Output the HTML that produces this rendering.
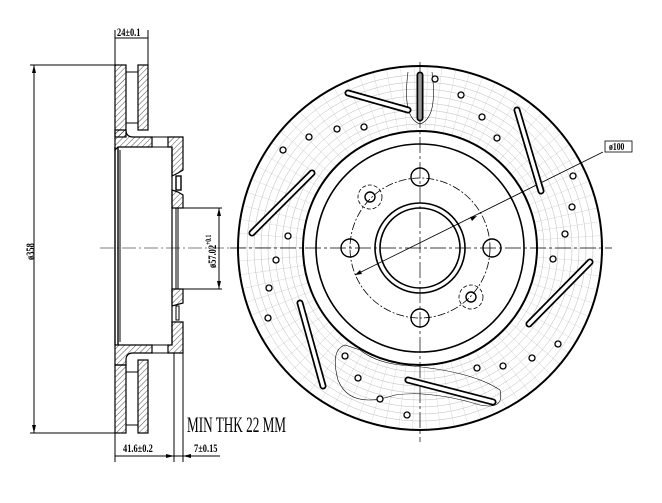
<!DOCTYPE html>
<html><head><meta charset="utf-8"><style>
html,body{margin:0;padding:0;background:#fff}
svg{display:block}
text{font-family:"Liberation Serif",serif;fill:#000}
</style></head><body>
<svg width="662" height="503" viewBox="0 0 662 503" xmlns="http://www.w3.org/2000/svg">
<defs>
<pattern id="h" width="4" height="4" patternUnits="userSpaceOnUse" patternTransform="rotate(45)">
<line x1="0" y1="0" x2="0" y2="4" stroke="#000" stroke-width="0.7"/>
</pattern>
</defs>
<!-- ===== SIDE VIEW ===== -->
<g stroke="#000" stroke-width="1.2" fill="url(#h)">
<rect x="115" y="65" width="11" height="72"/>
<rect x="138" y="65" width="10" height="65"/>
<path d="M115 130 L126 130 Q126 137 133 137 L152 137 L152 147 L118 147 L115 150 Z"/>
<path d="M168 137 L183 137 L183 170 L178 173 L172 176 L172 147 L168 147 Z"/>
<path d="M172 190 L178 192 L183 195 L183 208 L172 208 Z"/>
<path d="M172 289 L183 289 L183 303 L172 306 Z"/>
<path d="M172 322 L183 322 L183 353 L168 353 L168 345 L172 345 Z"/>
<path d="M115 345 L152 345 L152 353 L133 353 Q126 353 126 360 L126 365 L115 365 Z"/>
<rect x="115" y="365" width="11" height="68"/>
<rect x="138" y="360" width="10" height="73"/>
</g>
<g stroke="#000" stroke-width="1" fill="none">
<line x1="115" y1="147" x2="115" y2="345" stroke-width="1.4"/>
<line x1="118" y1="147" x2="118" y2="345" stroke-width="1.4"/>
<line x1="120" y1="150" x2="120" y2="342"/>
<line x1="118" y1="147" x2="172" y2="147"/>
<line x1="118" y1="345" x2="172" y2="345"/>
<line x1="172" y1="147" x2="172" y2="345" stroke-width="1.2"/>
<line x1="152" y1="137" x2="168" y2="137"/>
<line x1="152" y1="353" x2="168" y2="353"/>
<line x1="126" y1="72" x2="138" y2="72"/><line x1="126" y1="123" x2="138" y2="123"/>
<line x1="126" y1="372" x2="138" y2="372"/><line x1="126" y1="425" x2="138" y2="425"/>
<rect x="176" y="176" width="5" height="14" fill="#fff" stroke-width="1.4"/>
<rect x="176" y="306" width="3" height="14" fill="#fff"/>
<line x1="176" y1="208" x2="176" y2="289"/>
<line x1="178" y1="208" x2="178" y2="289"/>
<line x1="174" y1="353" x2="174" y2="462"/>
<line x1="183" y1="353" x2="183" y2="462"/>
<line x1="115" y1="433" x2="115" y2="462"/>
<line x1="115" y1="30" x2="115" y2="65"/>
<line x1="148" y1="30" x2="148" y2="65"/>
<!-- dims -->
<line x1="115" y1="38" x2="148" y2="38"/>
<line x1="30" y1="65" x2="115" y2="65"/>
<line x1="30" y1="433" x2="115" y2="433"/>
<line x1="34" y1="65" x2="34" y2="433"/>
<line x1="115" y1="456" x2="174" y2="456"/>
<line x1="174" y1="456" x2="220" y2="456"/>
<line x1="183" y1="208" x2="222" y2="208"/>
<line x1="183" y1="289" x2="222" y2="289"/>
<line x1="219" y1="208" x2="219" y2="289"/>
<line x1="100" y1="248" x2="232" y2="248" stroke-width="0.6" stroke-dasharray="14 3 2 3"/>
</g>
<g fill="#000">
<path d="M34 65 l-2 8 h4z"/><path d="M34 433 l-2 -8 h4z"/>
<path d="M219 208 l-2 8 h4z"/><path d="M219 289 l-2 -8 h4z"/>
<path d="M174 456 l-8 -2 v4z"/><path d="M183 456 l8 -2 v4z"/>
</g>
<text font-size="12" font-weight="bold" transform="translate(117 36) scale(0.7 1)">24±0.1</text>
<text font-size="12" font-weight="bold" transform="translate(123 452) scale(0.7 1)">41.6±0.2</text>
<text font-size="12" font-weight="bold" transform="translate(194 452) scale(0.7 1)">7±0.15</text>
<text font-size="12" font-weight="bold" transform="translate(34 260) rotate(-90) scale(0.7 1)">ø358</text>
<text font-size="12" font-weight="bold" transform="translate(216 268) rotate(-90) scale(0.7 1)">ø57.02<tspan font-size="8" dy="-5">+0.1</tspan></text>
<text font-size="22" transform="translate(187 432) scale(0.6 1)">MIN THK 22 MM</text>
<!-- ===== FRONT VIEW ===== -->
<g fill="none" stroke="#bbb" stroke-width="0.5">
<circle cx="420" cy="248" r="150" stroke-width="64" stroke="#d8d8d8" stroke-dasharray="0.5 11"/>
<circle cx="420" cy="248" r="124"/><circle cx="420" cy="248" r="131"/>
<circle cx="420" cy="248" r="138"/><circle cx="420" cy="248" r="145"/>
<circle cx="420" cy="248" r="152"/><circle cx="420" cy="248" r="159"/>
<circle cx="420" cy="248" r="166"/><circle cx="420" cy="248" r="173"/>
</g>
<g fill="none" stroke="#000">
<circle cx="420" cy="248" r="182" stroke-width="2"/>
<circle cx="420" cy="248" r="117" stroke-width="2"/>
<circle cx="420" cy="248" r="104" stroke-width="1.6"/>
<circle cx="420" cy="248" r="45" stroke-width="1.6"/>
<circle cx="420" cy="248" r="40" stroke-width="1.6"/>
<circle cx="420" cy="248" r="70" stroke-width="0.8" stroke-dasharray="8 2 2 2"/>
<g stroke-width="1.4">
<circle cx="420" cy="177" r="9"/><circle cx="350" cy="248" r="9"/>
<circle cx="492" cy="248" r="9"/><circle cx="420" cy="318" r="9"/>
<circle cx="370" cy="197" r="5"/><circle cx="471" cy="297" r="5"/>
</g>
<circle cx="370" cy="197" r="12" stroke-width="0.8" stroke-dasharray="4 2"/>
<circle cx="471" cy="297" r="12" stroke-width="0.8" stroke-dasharray="4 2"/>
<line x1="230" y1="248" x2="612" y2="248" stroke-width="0.7" stroke-dasharray="16 3 3 3"/>
<line x1="420" y1="62" x2="420" y2="442" stroke-width="0.7" stroke-dasharray="16 3 3 3"/>
<path d="M408 72 Q402 118 420 124 Q438 118 432 72" stroke-width="0.6"/>
<path d="M345 345 Q330 350 338 380 Q350 410 395 395 Q430 390 480 405 Q505 410 500 390 Q470 370 400 365 Q375 362 360 350 Z" stroke-width="0.6"/>
<line x1="355" y1="275" x2="603" y2="152" stroke-width="0.8"/>
<rect x="605" y="141" width="27" height="11" stroke-width="0.8" fill="#fff"/>
<g stroke-width="1.5">
<line x1="348" y1="93" x2="408" y2="110" stroke-width="7" stroke-linecap="round"/>
<line x1="420" y1="75" x2="420" y2="118" stroke-width="7" stroke-linecap="round"/>
<line x1="517" y1="110" x2="541" y2="191" stroke-width="7" stroke-linecap="round"/>
<line x1="312" y1="173" x2="252" y2="233" stroke-width="7" stroke-linecap="round"/>
<line x1="590" y1="262" x2="529" y2="324" stroke-width="7" stroke-linecap="round"/>
<line x1="300" y1="303" x2="323" y2="386" stroke-width="7" stroke-linecap="round"/>
<line x1="408" y1="380" x2="493" y2="402" stroke-width="7" stroke-linecap="round"/>
</g>
<g stroke="#fff" stroke-width="3.5" stroke-linecap="round">
<line x1="348" y1="93" x2="408" y2="110"/>
<line x1="420" y1="75" x2="420" y2="118" stroke="#999"/>
<line x1="517" y1="110" x2="541" y2="191"/>
<line x1="312" y1="173" x2="252" y2="233"/>
<line x1="590" y1="262" x2="529" y2="324"/>
<line x1="300" y1="303" x2="323" y2="386"/>
<line x1="408" y1="380" x2="493" y2="402"/>
</g>
<g stroke-width="1.3" fill="#fff">
<circle cx="435" cy="79" r="3"/><circle cx="461" cy="95" r="3"/>
<circle cx="482" cy="117" r="3"/><circle cx="497" cy="138" r="3"/>
<circle cx="573" cy="176" r="3"/><circle cx="572" cy="207" r="3"/>
<circle cx="565" cy="234" r="3"/><circle cx="553" cy="259" r="3"/>
<circle cx="558" cy="344" r="3"/><circle cx="532" cy="358" r="3"/>
<circle cx="503" cy="366" r="3"/><circle cx="477" cy="368" r="3"/>
<circle cx="407" cy="415" r="3"/><circle cx="380" cy="399" r="3"/>
<circle cx="358" cy="378" r="3"/><circle cx="345" cy="356" r="3"/>
<circle cx="268" cy="318" r="3"/><circle cx="269" cy="288" r="3"/>
<circle cx="276" cy="260" r="3"/><circle cx="288" cy="236" r="3"/>
<circle cx="283" cy="150" r="3"/><circle cx="309" cy="137" r="3"/>
<circle cx="337" cy="129" r="3"/><circle cx="364" cy="127" r="3"/>
</g>
</g>
<g fill="#000"><path d="M355 275 l7 -1 l-2 -4z"/><path d="M477 216 l-7 1 l2 4z"/></g>
<text font-size="11" font-weight="bold" transform="translate(609 150) scale(0.7 1)">ø100</text>
</svg>
</body></html>
